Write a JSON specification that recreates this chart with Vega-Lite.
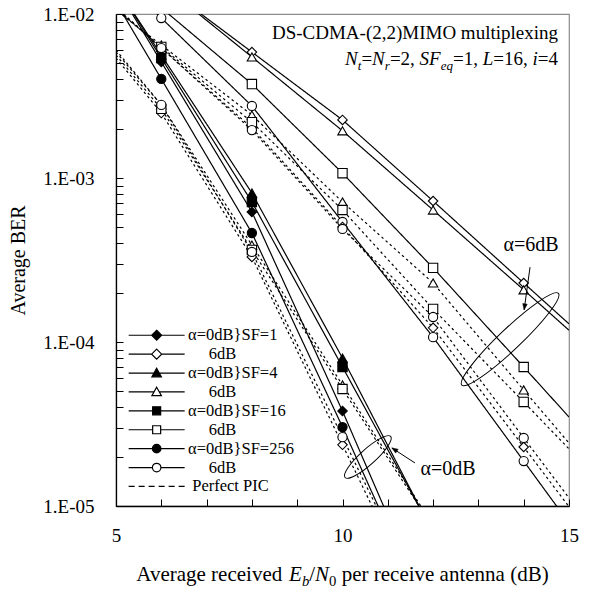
{
  "$schema": "https://vega.github.io/schema/vega-lite/v6.json",
  "width": 453,
  "height": 492,
  "autosize": {"type": "none"},
  "padding": {"left": 116, "top": 14, "right": 25, "bottom": 90},
  "background": "white",
  "config": {
    "font": "Liberation Serif",
    "text": {"font": "Liberation Serif"},
    "legend": {"labelFont": "Liberation Serif"},
    "view": {"stroke": "#8c8c8c", "strokeWidth": 1.2},
    "axis": {
      "domainColor": "black", "domainWidth": 1.3, "tickColor": "black", "tickWidth": 1,
      "labelColor": "black", "labelFont": "Liberation Serif", "labelFontSize": 19,
      "titleColor": "black", "titleFont": "Liberation Serif", "titleFontWeight": "normal", "grid": false
    }
  },
  "datasets": {
    "curves": [
      {"series": "a0_1", "sf": "1", "alpha": "0dB", "kind": "sim", "x": 5, "ber": 0.0146},
      {"series": "a0_1", "sf": "1", "alpha": "0dB", "kind": "sim", "x": 6, "ber": 0.0051},
      {"series": "a0_1", "sf": "1", "alpha": "0dB", "kind": "sim", "x": 8, "ber": 0.000621},
      {"series": "a0_1", "sf": "1", "alpha": "0dB", "kind": "sim", "x": 10, "ber": 0.0000379},
      {"series": "a0_1", "sf": "1", "alpha": "0dB", "kind": "sim", "x": 12, "ber": 0.000002},
      {"series": "a0_4", "sf": "4", "alpha": "0dB", "kind": "sim", "x": 5, "ber": 0.0148},
      {"series": "a0_4", "sf": "4", "alpha": "0dB", "kind": "sim", "x": 6, "ber": 0.00562},
      {"series": "a0_4", "sf": "4", "alpha": "0dB", "kind": "sim", "x": 8, "ber": 0.00081},
      {"series": "a0_4", "sf": "4", "alpha": "0dB", "kind": "sim", "x": 10, "ber": 0.0000798},
      {"series": "a0_4", "sf": "4", "alpha": "0dB", "kind": "sim", "x": 12, "ber": 0.00000684},
      {"series": "a0_16", "sf": "16", "alpha": "0dB", "kind": "sim", "x": 5, "ber": 0.0148},
      {"series": "a0_16", "sf": "16", "alpha": "0dB", "kind": "sim", "x": 6, "ber": 0.00539},
      {"series": "a0_16", "sf": "16", "alpha": "0dB", "kind": "sim", "x": 8, "ber": 0.000714},
      {"series": "a0_16", "sf": "16", "alpha": "0dB", "kind": "sim", "x": 10, "ber": 0.0000704},
      {"series": "a0_16", "sf": "16", "alpha": "0dB", "kind": "sim", "x": 12, "ber": 0.0000069},
      {"series": "a0_256", "sf": "256", "alpha": "0dB", "kind": "sim", "x": 5, "ber": 0.0118},
      {"series": "a0_256", "sf": "256", "alpha": "0dB", "kind": "sim", "x": 6, "ber": 0.00402},
      {"series": "a0_256", "sf": "256", "alpha": "0dB", "kind": "sim", "x": 8, "ber": 0.000462},
      {"series": "a0_256", "sf": "256", "alpha": "0dB", "kind": "sim", "x": 10, "ber": 0.0000303},
      {"series": "a0_256", "sf": "256", "alpha": "0dB", "kind": "sim", "x": 12, "ber": 0.0000018},
      {"series": "a6_1", "sf": "1", "alpha": "6dB", "kind": "sim", "x": 6, "ber": 0.0152},
      {"series": "a6_1", "sf": "1", "alpha": "6dB", "kind": "sim", "x": 8, "ber": 0.00586},
      {"series": "a6_1", "sf": "1", "alpha": "6dB", "kind": "sim", "x": 10, "ber": 0.00226},
      {"series": "a6_1", "sf": "1", "alpha": "6dB", "kind": "sim", "x": 12, "ber": 0.000724},
      {"series": "a6_1", "sf": "1", "alpha": "6dB", "kind": "sim", "x": 14, "ber": 0.000229},
      {"series": "a6_1", "sf": "1", "alpha": "6dB", "kind": "sim", "x": 15, "ber": 0.000129},
      {"series": "a6_4", "sf": "4", "alpha": "6dB", "kind": "sim", "x": 6, "ber": 0.0153},
      {"series": "a6_4", "sf": "4", "alpha": "6dB", "kind": "sim", "x": 8, "ber": 0.00547},
      {"series": "a6_4", "sf": "4", "alpha": "6dB", "kind": "sim", "x": 10, "ber": 0.00194},
      {"series": "a6_4", "sf": "4", "alpha": "6dB", "kind": "sim", "x": 12, "ber": 0.000638},
      {"series": "a6_4", "sf": "4", "alpha": "6dB", "kind": "sim", "x": 14, "ber": 0.000208},
      {"series": "a6_4", "sf": "4", "alpha": "6dB", "kind": "sim", "x": 15, "ber": 0.000118},
      {"series": "a6_16", "sf": "16", "alpha": "6dB", "kind": "sim", "x": 6, "ber": 0.0109},
      {"series": "a6_16", "sf": "16", "alpha": "6dB", "kind": "sim", "x": 8, "ber": 0.00374},
      {"series": "a6_16", "sf": "16", "alpha": "6dB", "kind": "sim", "x": 10, "ber": 0.00107},
      {"series": "a6_16", "sf": "16", "alpha": "6dB", "kind": "sim", "x": 12, "ber": 0.000283},
      {"series": "a6_16", "sf": "16", "alpha": "6dB", "kind": "sim", "x": 14, "ber": 0.0000704},
      {"series": "a6_16", "sf": "16", "alpha": "6dB", "kind": "sim", "x": 15, "ber": 0.0000349},
      {"series": "a6_256", "sf": "256", "alpha": "6dB", "kind": "sim", "x": 4, "ber": 0.0325},
      {"series": "a6_256", "sf": "256", "alpha": "6dB", "kind": "sim", "x": 6, "ber": 0.00945},
      {"series": "a6_256", "sf": "256", "alpha": "6dB", "kind": "sim", "x": 8, "ber": 0.00275},
      {"series": "a6_256", "sf": "256", "alpha": "6dB", "kind": "sim", "x": 10, "ber": 0.000539},
      {"series": "a6_256", "sf": "256", "alpha": "6dB", "kind": "sim", "x": 12, "ber": 0.000107},
      {"series": "a6_256", "sf": "256", "alpha": "6dB", "kind": "sim", "x": 14, "ber": 0.0000188},
      {"series": "a6_256", "sf": "256", "alpha": "6dB", "kind": "sim", "x": 15, "ber": 0.00000787},
      {"series": "p6_1", "sf": "1", "alpha": "6dB", "kind": "pic", "x": 4, "ber": 0.019},
      {"series": "p6_1", "sf": "1", "alpha": "6dB", "kind": "pic", "x": 6, "ber": 0.0062},
      {"series": "p6_1", "sf": "1", "alpha": "6dB", "kind": "pic", "x": 8, "ber": 0.00202},
      {"series": "p6_1", "sf": "1", "alpha": "6dB", "kind": "pic", "x": 10, "ber": 0.000503},
      {"series": "p6_1", "sf": "1", "alpha": "6dB", "kind": "pic", "x": 12, "ber": 0.000122},
      {"series": "p6_1", "sf": "1", "alpha": "6dB", "kind": "pic", "x": 14, "ber": 0.0000229},
      {"series": "p6_1", "sf": "1", "alpha": "6dB", "kind": "pic", "x": 15, "ber": 0.0000099},
      {"series": "p6_4", "sf": "4", "alpha": "6dB", "kind": "pic", "x": 4, "ber": 0.0173},
      {"series": "p6_4", "sf": "4", "alpha": "6dB", "kind": "pic", "x": 6, "ber": 0.00647},
      {"series": "p6_4", "sf": "4", "alpha": "6dB", "kind": "pic", "x": 8, "ber": 0.00242},
      {"series": "p6_4", "sf": "4", "alpha": "6dB", "kind": "pic", "x": 10, "ber": 0.000714},
      {"series": "p6_4", "sf": "4", "alpha": "6dB", "kind": "pic", "x": 12, "ber": 0.000229},
      {"series": "p6_4", "sf": "4", "alpha": "6dB", "kind": "pic", "x": 14, "ber": 0.000051},
      {"series": "p6_4", "sf": "4", "alpha": "6dB", "kind": "pic", "x": 15, "ber": 0.0000242},
      {"series": "p6_16", "sf": "16", "alpha": "6dB", "kind": "pic", "x": 4, "ber": 0.018},
      {"series": "p6_16", "sf": "16", "alpha": "6dB", "kind": "pic", "x": 6, "ber": 0.0063},
      {"series": "p6_16", "sf": "16", "alpha": "6dB", "kind": "pic", "x": 8, "ber": 0.00219},
      {"series": "p6_16", "sf": "16", "alpha": "6dB", "kind": "pic", "x": 10, "ber": 0.000638},
      {"series": "p6_16", "sf": "16", "alpha": "6dB", "kind": "pic", "x": 12, "ber": 0.000159},
      {"series": "p6_16", "sf": "16", "alpha": "6dB", "kind": "pic", "x": 14, "ber": 0.0000431},
      {"series": "p6_16", "sf": "16", "alpha": "6dB", "kind": "pic", "x": 15, "ber": 0.0000223},
      {"series": "p6_256", "sf": "256", "alpha": "6dB", "kind": "pic", "x": 4, "ber": 0.0196},
      {"series": "p6_256", "sf": "256", "alpha": "6dB", "kind": "pic", "x": 6, "ber": 0.0062},
      {"series": "p6_256", "sf": "256", "alpha": "6dB", "kind": "pic", "x": 8, "ber": 0.00196},
      {"series": "p6_256", "sf": "256", "alpha": "6dB", "kind": "pic", "x": 10, "ber": 0.000489},
      {"series": "p6_256", "sf": "256", "alpha": "6dB", "kind": "pic", "x": 12, "ber": 0.000142},
      {"series": "p6_256", "sf": "256", "alpha": "6dB", "kind": "pic", "x": 14, "ber": 0.000026},
      {"series": "p6_256", "sf": "256", "alpha": "6dB", "kind": "pic", "x": 15, "ber": 0.0000112},
      {"series": "p0_1", "sf": "1", "alpha": "0dB", "kind": "pic", "x": 5, "ber": 0.00539},
      {"series": "p0_1", "sf": "1", "alpha": "0dB", "kind": "pic", "x": 6, "ber": 0.00249},
      {"series": "p0_1", "sf": "1", "alpha": "0dB", "kind": "pic", "x": 8, "ber": 0.00033},
      {"series": "p0_1", "sf": "1", "alpha": "0dB", "kind": "pic", "x": 10, "ber": 0.0000236},
      {"series": "p0_1", "sf": "1", "alpha": "0dB", "kind": "pic", "x": 11, "ber": 0.0000063},
      {"series": "p0_4", "sf": "4", "alpha": "0dB", "kind": "pic", "x": 5, "ber": 0.00586},
      {"series": "p0_4", "sf": "4", "alpha": "0dB", "kind": "pic", "x": 6, "ber": 0.00279},
      {"series": "p0_4", "sf": "4", "alpha": "0dB", "kind": "pic", "x": 8, "ber": 0.00039},
      {"series": "p0_4", "sf": "4", "alpha": "0dB", "kind": "pic", "x": 10, "ber": 0.0000547},
      {"series": "p0_4", "sf": "4", "alpha": "0dB", "kind": "pic", "x": 12, "ber": 0.00000766},
      {"series": "p0_16", "sf": "16", "alpha": "0dB", "kind": "pic", "x": 5, "ber": 0.00562},
      {"series": "p0_16", "sf": "16", "alpha": "0dB", "kind": "pic", "x": 6, "ber": 0.00264},
      {"series": "p0_16", "sf": "16", "alpha": "0dB", "kind": "pic", "x": 8, "ber": 0.000364},
      {"series": "p0_16", "sf": "16", "alpha": "0dB", "kind": "pic", "x": 10, "ber": 0.0000517},
      {"series": "p0_16", "sf": "16", "alpha": "0dB", "kind": "pic", "x": 12, "ber": 0.0000074},
      {"series": "p0_256", "sf": "256", "alpha": "0dB", "kind": "pic", "x": 5, "ber": 0.00603},
      {"series": "p0_256", "sf": "256", "alpha": "0dB", "kind": "pic", "x": 6, "ber": 0.00279},
      {"series": "p0_256", "sf": "256", "alpha": "0dB", "kind": "pic", "x": 8, "ber": 0.000354},
      {"series": "p0_256", "sf": "256", "alpha": "0dB", "kind": "pic", "x": 10, "ber": 0.0000263},
      {"series": "p0_256", "sf": "256", "alpha": "0dB", "kind": "pic", "x": 11, "ber": 0.00000714}
    ],
    "ann": [
      {"id": "title1", "x": 14.757, "ber": 0.00766, "text": "DS-CDMA-(2,2)MIMO multiplexing"},
      {"id": "title2", "x": 14.757, "ber": 0.00489},
      {"id": "a0", "x": 12.33, "ber": 0.0000168, "text": "α=0dB"},
      {"id": "a6", "x": 14.16, "ber": 0.00039, "text": "α=6dB"},
      {"id": "e0", "x": 10.56, "ber": 0.0000199},
      {"id": "e6", "x": 13.7, "ber": 0.000104},
      {"id": "r0", "x": 11.6, "ber": 0.0000183, "x2": 11.09, "ber2": 0.0000226},
      {"id": "r6", "x": 14.14, "ber": 0.000286, "x2": 14.01, "ber2": 0.000157},
      {"id": "h0", "x": 11.09, "ber": 0.0000226},
      {"id": "h6", "x": 14.01, "ber": 0.000157},
      {"id": "xt", "x": 10, "ber": 0.00001}
    ]
  },
  "encoding": {
    "x": {
      "field": "x", "type": "quantitative",
      "scale": {"domain": [5, 15], "nice": false, "zero": false},
      "axis": {
        "title": null, "values": [5, 6, 7, 8, 9, 10, 11, 12, 13, 14, 15],
        "labelExpr": "datum.value % 5 == 0 ? datum.label : ''",
        "tickSize": -7, "labelPadding": 27, "labelFlush": false
      }
    },
    "y": {
      "field": "ber", "type": "quantitative",
      "scale": {"type": "log", "domain": [0.00001, 0.01], "nice": false},
      "axis": {
        "title": "Average BER", "titleFontSize": 20, "titlePadding": 14,
        "values": [0.00001, 0.00002, 0.00003, 0.00004, 0.00005, 0.00006, 0.00007, 0.00008, 0.00009, 0.0001, 0.0002, 0.0003, 0.0004, 0.0005, 0.0006, 0.0007, 0.0008, 0.0009, 0.001, 0.002, 0.003, 0.004, 0.005, 0.006, 0.007, 0.008, 0.009, 0.01],
        "labelExpr": "abs(datum.value-0.01)<1e-9 ? '1.E-02' : abs(datum.value-0.001)<1e-10 ? '1.E-03' : abs(datum.value-0.0001)<1e-11 ? '1.E-04' : abs(datum.value-0.00001)<1e-12 ? '1.E-05' : ''",
        "tickSize": -7, "labelPadding": 29, "labelFlush": false
      }
    }
  },
  "layer": [
    {
      "data": {"name": "curves"},
      "mark": {"type": "line", "color": "black", "strokeWidth": 1.2, "clip": true},
      "encoding": {
        "detail": {"field": "series"},
        "strokeDash": {"field": "kind", "type": "nominal", "scale": {"domain": ["sim", "pic"], "range": [[1, 0], [2.5, 3]]}, "legend": null}
      }
    },
    {
      "data": {"name": "curves"},
      "transform": [{"filter": "datum.x >= 6 && datum.x <= 14 && datum.x % 2 == 0"}],
      "mark": {"type": "point", "stroke": "black", "strokeWidth": 1.1, "opacity": 1, "clip": true},
      "encoding": {
        "shape": {"field": "sf", "type": "nominal", "scale": {"domain": ["1", "4", "16", "256"], "range": ["diamond", "triangle-up", "square", "circle"]}, "legend": null},
        "size": {"field": "sf", "type": "ordinal", "scale": {"domain": ["1", "4", "16", "256"], "range": [90, 85, 60, 70]}, "legend": null},
        "fill": {"condition": {"test": "datum.kind == 'sim' && datum.alpha == '0dB'", "value": "black"}, "value": "white"}
      }
    },
    {
      "data": {"name": "curves"},
      "transform": [{"filter": "false"}],
      "mark": {"type": "point", "size": 100, "strokeWidth": 1.2, "opacity": 1},
      "encoding": {
        "shape": {
          "field": "series", "type": "nominal",
          "scale": {
            "domain": ["a0_1", "a6_1", "a0_4", "a6_4", "a0_16", "a6_16", "a0_256", "a6_256", "pic"],
            "range": [
              "M-5.6,0L5.6,0M0,-1L1,0L0,1L-1,0Z",
              "M-5.6,0L-1,0M1,0L5.6,0M0,-1L1,0L0,1L-1,0Z",
              "M-5.6,0L5.6,0M0,-0.95L0.95,0.75L-0.95,0.75Z",
              "M-5.6,0L-0.53,0M0.53,0L5.6,0M0,-0.95L0.95,0.75L-0.95,0.75Z",
              "M-5.6,0L5.6,0M-0.8,-0.8L0.8,-0.8L0.8,0.8L-0.8,0.8Z",
              "M-5.6,0L-0.8,0M0.8,0L5.6,0M-0.8,-0.8L0.8,-0.8L0.8,0.8L-0.8,0.8Z",
              "M-5.6,0L5.6,0M0.85,0A0.85,0.85,0,1,1,-0.85,0A0.85,0.85,0,1,1,0.85,0Z",
              "M-5.6,0L-0.85,0M0.85,0L5.6,0M0.85,0A0.85,0.85,0,1,1,-0.85,0A0.85,0.85,0,1,1,0.85,0Z",
              "M-5.6,0L-4.4,0M-3.6,0L-2.4,0M-1.6,0L-0.4,0M0.4,0L1.6,0M2.4,0L3.6,0M4.4,0L5.6,0"
            ]
          },
          "legend": {
            "orient": "none", "legendX": 32.4, "legendY": 313, "title": null, "padding": 0,
            "labelFont": "Liberation Serif", "labelFontSize": 16.5, "labelColor": "black", "labelOffset": 23.2, "labelLimit": 300,
            "symbolSize": 100, "symbolStrokeWidth": 1.2, "rowPadding": 1.9,
            "labelExpr": "datum.label=='a0_1'?'α=0dB}SF=1':datum.label=='a0_4'?'α=0dB}SF=4':datum.label=='a0_16'?'α=0dB}SF=16':datum.label=='a0_256'?'α=0dB}SF=256':datum.label=='pic'?'\u200b\u00a0Perfect PIC':'\u200b\u00a0\u00a0\u00a0\u00a0\u00a06dB'"
          }
        },
        "fill": {
          "field": "series", "type": "nominal",
          "scale": {
            "domain": ["a0_1", "a6_1", "a0_4", "a6_4", "a0_16", "a6_16", "a0_256", "a6_256", "pic"],
            "range": ["black", "white", "black", "white", "black", "white", "black", "white", "white"]
          },
          "legend": {
            "orient": "none", "legendX": 32.4, "legendY": 313, "title": null, "padding": 0,
            "labelFont": "Liberation Serif", "labelFontSize": 16.5, "labelColor": "black", "labelOffset": 23.2, "labelLimit": 300,
            "symbolSize": 100, "symbolStrokeWidth": 1.2, "rowPadding": 1.9,
            "labelExpr": "datum.label=='a0_1'?'α=0dB}SF=1':datum.label=='a0_4'?'α=0dB}SF=4':datum.label=='a0_16'?'α=0dB}SF=16':datum.label=='a0_256'?'α=0dB}SF=256':datum.label=='pic'?'\u200b\u00a0Perfect PIC':'\u200b\u00a0\u00a0\u00a0\u00a0\u00a06dB'"
          }
        },
        "stroke": {
          "field": "series", "type": "nominal",
          "scale": {
            "domain": ["a0_1", "a6_1", "a0_4", "a6_4", "a0_16", "a6_16", "a0_256", "a6_256", "pic"],
            "range": ["black", "black", "black", "black", "black", "black", "black", "black", "black"]
          },
          "legend": {
            "orient": "none", "legendX": 32.4, "legendY": 313, "title": null, "padding": 0,
            "labelFont": "Liberation Serif", "labelFontSize": 16.5, "labelColor": "black", "labelOffset": 23.2, "labelLimit": 300,
            "symbolSize": 100, "symbolStrokeWidth": 1.2, "rowPadding": 1.9,
            "labelExpr": "datum.label=='a0_1'?'α=0dB}SF=1':datum.label=='a0_4'?'α=0dB}SF=4':datum.label=='a0_16'?'α=0dB}SF=16':datum.label=='a0_256'?'α=0dB}SF=256':datum.label=='pic'?'\u200b\u00a0Perfect PIC':'\u200b\u00a0\u00a0\u00a0\u00a0\u00a06dB'"
          }
        }
      }
    },
    {
      "data": {"name": "ann"},
      "transform": [{"filter": "datum.id == 'e0'"}],
      "mark": {"type": "point", "shape": "M-1,0A1,0.25,0,1,0,1,0A1,0.25,0,1,0,-1,0Z", "size": 3770, "angle": 318, "stroke": "black", "strokeWidth": 1, "opacity": 1, "filled": false}
    },
    {
      "data": {"name": "ann"},
      "transform": [{"filter": "datum.id == 'e6'"}],
      "mark": {"type": "point", "shape": "M-1,0A1,0.16,0,1,0,1,0A1,0.16,0,1,0,-1,0Z", "size": 17742, "angle": 316.5, "stroke": "black", "strokeWidth": 1, "opacity": 1, "filled": false}
    },
    {
      "data": {"name": "ann"},
      "transform": [{"filter": "datum.id == 'r0' || datum.id == 'r6'"}],
      "mark": {"type": "rule", "color": "black", "strokeWidth": 1},
      "encoding": {"x2": {"field": "x2"}, "y2": {"field": "ber2"}}
    },
    {
      "data": {"name": "ann"},
      "transform": [{"filter": "datum.id == 'h0'"}],
      "mark": {"type": "point", "shape": "M0,0L-2,-0.75L-2,0.75Z", "size": 36, "angle": 213, "fill": "black", "stroke": "black", "strokeWidth": 0.5, "opacity": 1, "filled": true}
    },
    {
      "data": {"name": "ann"},
      "transform": [{"filter": "datum.id == 'h6'"}],
      "mark": {"type": "point", "shape": "M0,0L-2,-0.75L-2,0.75Z", "size": 36, "angle": 98, "fill": "black", "stroke": "black", "strokeWidth": 0.5, "opacity": 1, "filled": true}
    },
    {
      "data": {"name": "ann"},
      "transform": [{"filter": "datum.id == 'a0' || datum.id == 'a6'"}],
      "mark": {"type": "text", "fontSize": 20, "font": "Liberation Serif", "color": "black", "align": "center", "baseline": "middle"},
      "encoding": {"text": {"field": "text"}}
    },
    {
      "data": {"name": "ann"},
      "transform": [{"filter": "datum.id == 'title1'"}],
      "mark": {"type": "text", "fontSize": 19, "font": "Liberation Serif", "color": "black", "align": "right", "baseline": "middle"},
      "encoding": {"text": {"field": "text"}}
    },
    {"data": {"name": "ann"}, "transform": [{"filter": "datum.id == 'title2'"}], "mark": {"type": "text", "text": "N", "font": "Liberation Serif", "fontSize": 19, "fontStyle": "italic", "color": "black", "align": "left", "baseline": "alphabetic", "dx": -212.9}},
    {"data": {"name": "ann"}, "transform": [{"filter": "datum.id == 'title2'"}], "mark": {"type": "text", "text": "t", "font": "Liberation Serif", "fontSize": 13, "fontStyle": "italic", "color": "black", "align": "left", "baseline": "alphabetic", "dx": -200.2, "dy": 5}},
    {"data": {"name": "ann"}, "transform": [{"filter": "datum.id == 'title2'"}], "mark": {"type": "text", "text": "=", "font": "Liberation Serif", "fontSize": 19, "color": "black", "align": "left", "baseline": "alphabetic", "dx": -196.6}},
    {"data": {"name": "ann"}, "transform": [{"filter": "datum.id == 'title2'"}], "mark": {"type": "text", "text": "N", "font": "Liberation Serif", "fontSize": 19, "fontStyle": "italic", "color": "black", "align": "left", "baseline": "alphabetic", "dx": -185.9}},
    {"data": {"name": "ann"}, "transform": [{"filter": "datum.id == 'title2'"}], "mark": {"type": "text", "text": "r", "font": "Liberation Serif", "fontSize": 13, "fontStyle": "italic", "color": "black", "align": "left", "baseline": "alphabetic", "dx": -173.2, "dy": 5}},
    {"data": {"name": "ann"}, "transform": [{"filter": "datum.id == 'title2'"}], "mark": {"type": "text", "text": "=2,", "font": "Liberation Serif", "fontSize": 19, "color": "black", "align": "left", "baseline": "alphabetic", "dx": -168.1}},
    {"data": {"name": "ann"}, "transform": [{"filter": "datum.id == 'title2'"}], "mark": {"type": "text", "text": "SF", "font": "Liberation Serif", "fontSize": 19, "fontStyle": "italic", "color": "black", "align": "left", "baseline": "alphabetic", "dx": -138.4}},
    {"data": {"name": "ann"}, "transform": [{"filter": "datum.id == 'title2'"}], "mark": {"type": "text", "text": "eq", "font": "Liberation Serif", "fontSize": 13, "fontStyle": "italic", "color": "black", "align": "left", "baseline": "alphabetic", "dx": -117.3, "dy": 5}},
    {"data": {"name": "ann"}, "transform": [{"filter": "datum.id == 'title2'"}], "mark": {"type": "text", "text": "=1,", "font": "Liberation Serif", "fontSize": 19, "color": "black", "align": "left", "baseline": "alphabetic", "dx": -105}},
    {"data": {"name": "ann"}, "transform": [{"filter": "datum.id == 'title2'"}], "mark": {"type": "text", "text": "L", "font": "Liberation Serif", "fontSize": 19, "fontStyle": "italic", "color": "black", "align": "left", "baseline": "alphabetic", "dx": -75.3}},
    {"data": {"name": "ann"}, "transform": [{"filter": "datum.id == 'title2'"}], "mark": {"type": "text", "text": "=16,", "font": "Liberation Serif", "fontSize": 19, "color": "black", "align": "left", "baseline": "alphabetic", "dx": -64.7}},
    {"data": {"name": "ann"}, "transform": [{"filter": "datum.id == 'title2'"}], "mark": {"type": "text", "text": "i", "font": "Liberation Serif", "fontSize": 19, "fontStyle": "italic", "color": "black", "align": "left", "baseline": "alphabetic", "dx": -25.5}},
    {"data": {"name": "ann"}, "transform": [{"filter": "datum.id == 'title2'"}], "mark": {"type": "text", "text": "=4", "font": "Liberation Serif", "fontSize": 19, "color": "black", "align": "left", "baseline": "alphabetic", "dx": -20.2}},
    {"data": {"name": "ann"}, "transform": [{"filter": "datum.id == 'xt'"}], "mark": {"type": "text", "text": "Average received", "font": "Liberation Serif", "fontSize": 21, "color": "black", "align": "left", "baseline": "alphabetic", "dx": -206.2, "dy": 75}},
    {"data": {"name": "ann"}, "transform": [{"filter": "datum.id == 'xt'"}], "mark": {"type": "text", "text": "E", "font": "Liberation Serif", "fontSize": 21, "fontStyle": "italic", "color": "black", "align": "left", "baseline": "alphabetic", "dx": -53.45, "dy": 75}},
    {"data": {"name": "ann"}, "transform": [{"filter": "datum.id == 'xt'"}], "mark": {"type": "text", "text": "b", "font": "Liberation Serif", "fontSize": 14.7, "fontStyle": "italic", "color": "black", "align": "left", "baseline": "alphabetic", "dx": -40.62, "dy": 80}},
    {"data": {"name": "ann"}, "transform": [{"filter": "datum.id == 'xt'"}], "mark": {"type": "text", "text": "/", "font": "Liberation Serif", "fontSize": 21, "color": "black", "align": "left", "baseline": "alphabetic", "dx": -33.27, "dy": 75}},
    {"data": {"name": "ann"}, "transform": [{"filter": "datum.id == 'xt'"}], "mark": {"type": "text", "text": "N", "font": "Liberation Serif", "fontSize": 21, "fontStyle": "italic", "color": "black", "align": "left", "baseline": "alphabetic", "dx": -27.43, "dy": 75}},
    {"data": {"name": "ann"}, "transform": [{"filter": "datum.id == 'xt'"}], "mark": {"type": "text", "text": "0", "font": "Liberation Serif", "fontSize": 14.7, "color": "black", "align": "left", "baseline": "alphabetic", "dx": -13.42, "dy": 80}},
    {"data": {"name": "ann"}, "transform": [{"filter": "datum.id == 'xt'"}], "mark": {"type": "text", "text": "per receive antenna (dB)", "font": "Liberation Serif", "fontSize": 21, "color": "black", "align": "left", "baseline": "alphabetic", "dx": -0.82, "dy": 75}}
  ],
  "resolve": {"scale": {"shape": "independent", "fill": "independent", "size": "independent", "stroke": "independent"}}
}
